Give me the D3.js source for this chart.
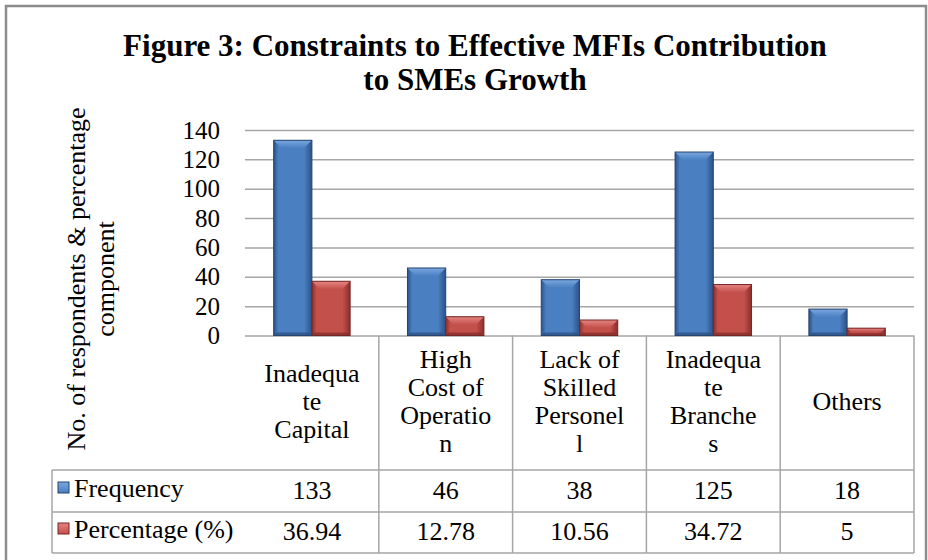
<!DOCTYPE html>
<html>
<head>
<meta charset="utf-8">
<script src="https://cdn.jsdelivr.net/npm/d3@7"></script>
<style>
  body { margin: 0; background: #fff; }
  svg text { font-family: "Liberation Serif", "Times New Roman", serif; fill: #000; }
  .titulo { font-size: 31px; font-weight: bold; }
  .titulo-eixo { font-size: 26px; text-anchor: middle; }
  .rotulo { font-size: 26px; text-anchor: middle; }
  .legenda { font-size: 26px; }
  #eixoY text { font-size: 25px; }
  #eixoY line { stroke: #a6a6a6; stroke-width: 1.5; }
  .tabela { stroke: #a6a6a6; stroke-width: 1.5; fill: none; }
</style>
</head>
<body>
<svg id="grafico"></svg>
<script>
// dados
const categorias = ['Inadequate Capital', 'High Cost of Operation', 'Lack of Skilled Personell', 'Inadequate Branches', 'Others'];
const rotulosCategorias = [
  ['Inadequa', 'te', 'Capital'],
  ['High', 'Cost of', 'Operatio', 'n'],
  ['Lack of', 'Skilled', 'Personel', 'l'],
  ['Inadequa', 'te', 'Branche', 's'],
  ['Others']
];
const series = ['Frequency', 'Percentage (%)'];
const frequencia = [133, 46, 38, 125, 18];
const percentual = [36.94, 12.78, 10.56, 34.72, 5];
const ticksY = [0, 20, 40, 60, 80, 100, 120, 140];

function GraficoDeBarras(parametros) {

  const svg = d3.select(parametros.seletor).attr('width', parametros.largura).attr('height', parametros.altura);
  const margem = {
    esquerda: 245,
    direita: 14,
    superior: 130,
    inferior: 224.5
  };

  const larguraPlotagem = parametros.largura - margem.esquerda - margem.direita;
  const alturaPlotagem = parametros.altura - margem.inferior - margem.superior;

  // moldura cinza do gráfico
  svg.append('rect')
      .attr('x', 6).attr('y', 6)
      .attr('width', 920).attr('height', 580)
      .attr('fill', '#fff')
      .attr('stroke', '#8c8c8c')
      .attr('stroke-width', 2.5);

  // gradientes das barras (efeito de bisel do Excel)
  const cores = [
    { base: '#4a7fc1', claro: '#7aa7e0', escuro: '#2c5287', borda: '#25446f' },
    { base: '#c4504c', claro: '#e58580', escuro: '#8a2e2b', borda: '#742725' }
  ];
  const defs = svg.append('defs');
  cores.forEach((c, i) => {
    const g = defs.append('linearGradient').attr('id', 'corpo' + i).attr('x1', 0).attr('x2', 1).attr('y1', 0).attr('y2', 0);
    g.append('stop').attr('offset', '0%').attr('stop-color', c.escuro);
    g.append('stop').attr('offset', '12%').attr('stop-color', c.base);
    g.append('stop').attr('offset', '80%').attr('stop-color', c.base);
    g.append('stop').attr('offset', '100%').attr('stop-color', c.escuro);
    const t = defs.append('linearGradient').attr('id', 'topo' + i).attr('x1', 0).attr('x2', 0).attr('y1', 0).attr('y2', 1);
    t.append('stop').attr('offset', '0%').attr('stop-color', c.claro);
    t.append('stop').attr('offset', '100%').attr('stop-color', c.base);
  });

  // título em duas linhas
  parametros.titulo.forEach((linha, i) => {
    svg.append('text')
        .classed('titulo', true)
        .attr('x', 475)
        .attr('y', 56 + i * 34)
        .attr('text-anchor', 'middle')
        .text(linha);
  });

  const plotagem = svg.append('g')
      .attr('id', 'plotagem')
      .attr('transform', `translate(${margem.esquerda}, ${margem.superior})`);

  const x = d3.scaleBand().domain(categorias).range([0, larguraPlotagem]);
  const x1 = d3.scaleBand().domain(d3.range(series.length)).range([0, x.bandwidth()]).paddingOuter(0.75);
  const y = d3.scaleLinear().domain([0, 140]).range([alturaPlotagem, 0]);

  // eixo Y com as linhas de grade
  const eixoY = d3.axisLeft(y).tickValues(ticksY).tickSize(-larguraPlotagem).tickPadding(25);
  plotagem.append('g').attr('id', 'eixoY').call(eixoY);
  plotagem.select('#eixoY .domain').remove();

  // título do eixo Y
  parametros.tituloY.forEach((linha, i) => {
    svg.append('text')
        .classed('titulo-eixo', true)
        .attr('transform', `translate(${85 + i * 29}, 279) rotate(-90)`)
        .text(linha);
  });

  // barras
  const dados = categorias.flatMap((c, i) => [
    { categoria: c, serie: 0, valor: frequencia[i] },
    { categoria: c, serie: 1, valor: percentual[i] }
  ]);

  const barras = plotagem.selectAll('.barra').data(dados).enter().append('g').classed('barra', true);
  barras.each(function(d) {
    const g = d3.select(this);
    const bx = x(d.categoria) + x1(d.serie);
    const w = x1.bandwidth();
    const by = y(d.valor);
    const h = y(0) - by;
    const b = Math.min(8, h / 2);
    const s = Math.min(3, h / 3);
    const c = cores[d.serie];
    g.append('rect').attr('x', bx).attr('y', by).attr('width', w).attr('height', h).attr('fill', `url(#corpo${d.serie})`);
    // bisel do topo
    g.append('polygon')
        .attr('points', [[bx, by], [bx + w, by], [bx + w - b, by + b], [bx + b, by + b]].join(' '))
        .attr('fill', `url(#topo${d.serie})`);
    // bisel da base
    g.append('polygon')
        .attr('points', [[bx, by + h], [bx + w, by + h], [bx + w - s, by + h - s], [bx + s, by + h - s]].join(' '))
        .attr('fill', c.escuro).attr('opacity', 0.8);
    g.append('rect').attr('x', bx).attr('y', by).attr('width', w).attr('height', h)
        .attr('fill', 'none').attr('stroke', c.borda).attr('stroke-width', 1);
  });

  // tabela de dados abaixo do eixo
  const tabela = svg.append('g').attr('transform', `translate(${margem.esquerda}, 0)`);
  const yBase = margem.superior + alturaPlotagem;
  const linhasTabela = [470, 512, 553];

  categorias.forEach((c, i) => {
    const xd = x(c) + x.bandwidth();
    tabela.append('line').classed('tabela', true)
        .attr('x1', xd).attr('x2', xd).attr('y1', yBase).attr('y2', linhasTabela[2]);
  });
  linhasTabela.forEach(ly => {
    svg.append('line').classed('tabela', true)
        .attr('x1', 52).attr('x2', margem.esquerda + larguraPlotagem).attr('y1', ly).attr('y2', ly);
  });
  svg.append('line').classed('tabela', true)
      .attr('x1', 52).attr('x2', 52).attr('y1', linhasTabela[0]).attr('y2', linhasTabela[2]);

  // rótulos das categorias quebrados como no Excel
  categorias.forEach((c, i) => {
    const linhas = rotulosCategorias[i];
    const texto = tabela.append('text').classed('rotulo', true);
    linhas.forEach((l, j) => {
      texto.append('tspan')
          .attr('x', x(c) + x.bandwidth() / 2)
          .attr('y', 410 + (j - (linhas.length - 1) / 2) * 28.3)
          .text(l);
    });
  });

  // valores e legenda
  [frequencia, percentual].forEach((valores, k) => {
    const ly = [499, 540][k];
    tabela.selectAll('.valor' + k).data(valores).enter().append('text')
        .classed('rotulo', true)
        .attr('x', (v, i) => x(categorias[i]) + x.bandwidth() / 2)
        .attr('y', ly)
        .text(v => String(v));

    svg.append('rect')
        .attr('x', 58).attr('y', ly - 17)
        .attr('width', 11).attr('height', 11)
        .attr('fill', `url(#topo${k})`)
        .attr('stroke', cores[k].borda).attr('stroke-width', 1);
    svg.append('text')
        .classed('legenda', true)
        .attr('x', 74).attr('y', ly - 2)
        .text(series[k]);
  });
}

new GraficoDeBarras({
  seletor: '#grafico',
  largura: 928,
  altura: 560,
  titulo: ['Figure 3: Constraints to Effective MFIs Contribution', 'to SMEs Growth'],
  tituloY: ['No. of respondents & percentage', 'component']
});
</script>
</body>
</html>
